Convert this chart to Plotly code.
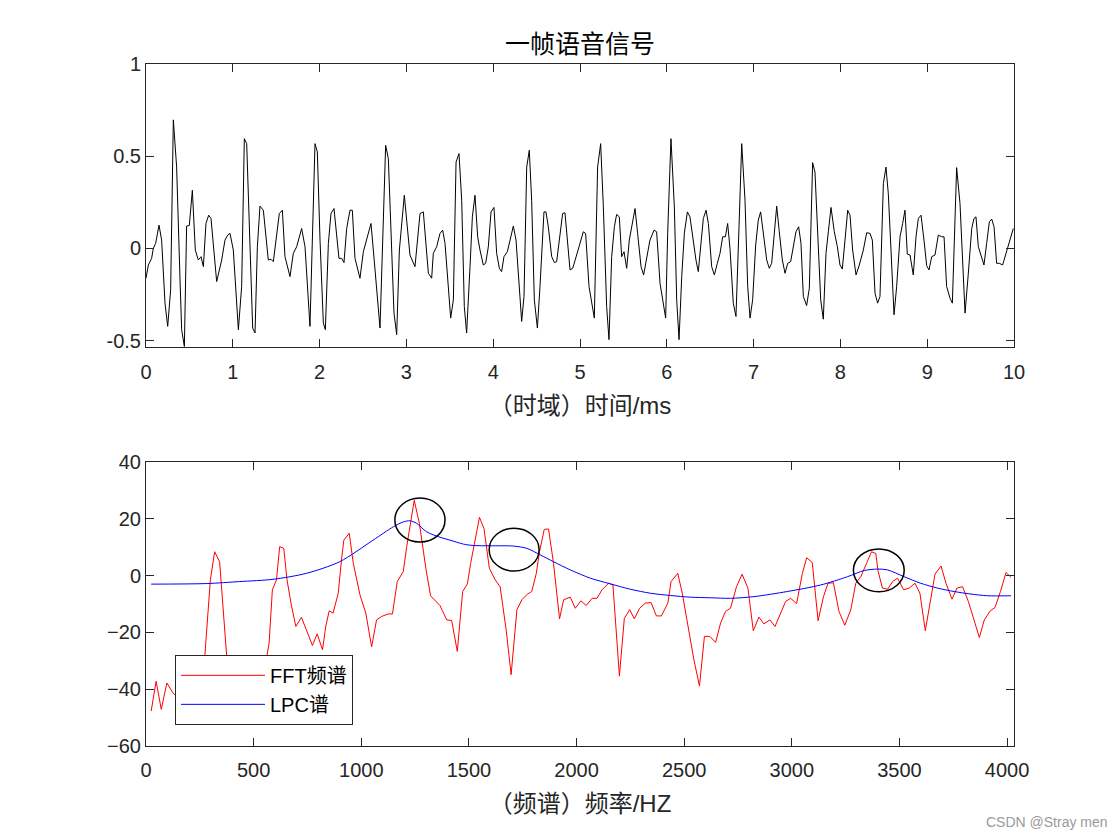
import plotly.graph_objects as go

# ---------------- data: top panel (one speech frame) ----------------
t_ms = [
    0.000, 0.027, 0.065, 0.084, 0.111, 0.150, 0.180, 0.219, 0.250, 0.284,
    0.315, 0.353, 0.392, 0.411, 0.442, 0.468, 0.499, 0.534, 0.568, 0.603,
    0.634, 0.661, 0.691, 0.722, 0.749, 0.814, 0.872, 0.910, 0.941, 0.968,
    1.006, 1.064, 1.102, 1.133, 1.160, 1.198, 1.229, 1.256, 1.283, 1.313,
    1.352, 1.409, 1.440, 1.467, 1.505, 1.536, 1.571, 1.601, 1.659, 1.697,
    1.736, 1.793, 1.832, 1.889, 1.947, 1.974, 2.005, 2.043, 2.066, 2.101,
    2.131, 2.166, 2.223, 2.254, 2.281, 2.312, 2.350, 2.377, 2.408, 2.465,
    2.504, 2.554, 2.592, 2.619, 2.696, 2.761, 2.792, 2.857, 2.888, 2.919,
    2.976, 3.041, 3.099, 3.157, 3.195, 3.253, 3.291, 3.310, 3.349, 3.387,
    3.418, 3.445, 3.483, 3.510, 3.541, 3.572, 3.606, 3.637, 3.667, 3.694,
    3.733, 3.760, 3.790, 3.821, 3.848, 3.886, 3.913, 3.944, 3.975, 4.009,
    4.040, 4.071, 4.097, 4.124, 4.163, 4.194, 4.232, 4.263, 4.301, 4.328,
    4.355, 4.386, 4.416, 4.443, 4.474, 4.509, 4.539, 4.585, 4.608, 4.635,
    4.674, 4.705, 4.731, 4.770, 4.800, 4.827, 4.858, 4.885, 4.916, 4.951,
    4.989, 5.038, 5.065, 5.104, 5.134, 5.165, 5.203, 5.238, 5.269, 5.307,
    5.334, 5.365, 5.396, 5.422, 5.453, 5.480, 5.507, 5.538, 5.568, 5.603,
    5.634, 5.664, 5.703, 5.733, 5.768, 5.806, 5.853, 5.883, 5.922, 5.960,
    5.987, 6.010, 6.048, 6.087, 6.114, 6.141, 6.172, 6.202, 6.237, 6.267,
    6.306, 6.336, 6.363, 6.390, 6.421, 6.452, 6.479, 6.517, 6.548, 6.582,
    6.613, 6.644, 6.675, 6.701, 6.728,
    6.766, 6.797, 6.832, 6.863, 6.901, 6.932, 6.959, 6.989, 7.024, 7.054,
    7.081, 7.112, 7.151, 7.181, 7.208, 7.235, 7.266, 7.296, 7.331, 7.362,
    7.393, 7.427, 7.458, 7.488, 7.519, 7.546, 7.573, 7.611, 7.642, 7.680,
    7.707, 7.746, 7.773, 7.803, 7.834, 7.861, 7.892, 7.930, 7.965, 7.995,
    8.022, 8.053, 8.084, 8.111, 8.141, 8.180, 8.218, 8.264, 8.303, 8.341,
    8.368, 8.399, 8.429, 8.456, 8.495, 8.525, 8.552, 8.583, 8.618, 8.648,
    8.687, 8.717, 8.744, 8.771, 8.802, 8.840, 8.871, 8.898, 8.929, 8.963,
    8.994, 9.021, 9.052, 9.090, 9.128, 9.167, 9.194, 9.224, 9.263, 9.290,
    9.313, 9.339, 9.378, 9.409, 9.436, 9.474, 9.513, 9.539, 9.562, 9.589,
    9.628, 9.654, 9.685, 9.716, 9.743, 9.770, 9.800, 9.831, 9.869, 9.904,
    9.935, 9.992,
]
amp = [
    -0.162, -0.090, -0.054, 0.000, 0.027, 0.126, 0.045, -0.297, -0.423, -0.225,
    0.697, 0.441, -0.171, -0.441, -0.532, 0.121, 0.124, 0.315, -0.009, -0.063,
    -0.045, -0.099, 0.135, 0.180, 0.162, -0.180, -0.063, 0.045, 0.072, 0.081,
    -0.009, -0.441, -0.207, 0.595, 0.568, 0.045, -0.432, -0.459, 0.009, 0.229,
    0.207, -0.063, -0.059, -0.072, 0.090, 0.189, 0.207, -0.045, -0.153, -0.027,
    0.009, 0.108, 0.009, -0.423, 0.568, 0.523, 0.045, -0.405, -0.441, 0.027,
    0.189, 0.216, -0.054, -0.054, -0.077, 0.108, 0.207, 0.207, -0.054, -0.162,
    -0.018, 0.063, 0.135, -0.009, -0.432, 0.559, 0.486, -0.351, -0.468, -0.009,
    0.288, -0.036, -0.099, 0.189, 0.198, -0.135, -0.162, -0.027, 0.009, 0.081,
    0.099, 0.027, -0.243, -0.378, -0.279, 0.468, 0.514, 0.261, -0.315, -0.459,
    -0.099, 0.171, 0.288, 0.063, -0.009, -0.090, -0.081, 0.009, 0.198, 0.222,
    -0.027, -0.108, -0.126, -0.045, -0.018, 0.045, 0.121, 0.045, -0.225, -0.396,
    -0.261, 0.441, 0.532, 0.261, -0.279, -0.432, -0.207, 0.198, 0.198, 0.117,
    -0.045, -0.077, -0.072, 0.081, 0.189, 0.193, 0.027, -0.117, -0.108, -0.045,
    0.009, 0.090, 0.081, -0.207, -0.297, -0.378, 0.441, 0.568, 0.225, -0.315,
    -0.495, -0.045, 0.117, 0.184, 0.171, -0.045, -0.018, -0.108, 0.045, 0.135,
    0.216, 0.081, -0.099, -0.144, -0.045, 0.045, 0.099, 0.090, -0.189, -0.315,
    -0.378, 0.081, 0.595, 0.225, -0.279, -0.495, -0.153, 0.081, 0.198, 0.171,
    0.027, -0.063, -0.126, 0.009, 0.162, 0.207, 0.135, -0.099, -0.144, -0.081,
    -0.027, 0.063, 0.063, 0.135, 0.000,
    -0.297, -0.369, 0.117, 0.568, 0.261, -0.207, -0.378, -0.279, 0.018, 0.153,
    0.198, 0.081, -0.063, -0.108, -0.081, 0.063, 0.229, 0.090, -0.063, -0.135,
    -0.081, -0.072, 0.009, 0.090, 0.117, 0.027, -0.261, -0.310, -0.216, 0.465,
    0.414, 0.027, -0.279, -0.384, -0.027, 0.090, 0.222, 0.090, 0.009, -0.090,
    -0.112, 0.045, 0.207, 0.180, -0.009, -0.144, -0.090, -0.009, 0.085, 0.081,
    0.045, -0.243, -0.297, -0.261, 0.351, 0.441, 0.297, -0.009, -0.360, -0.207,
    0.063, 0.135, 0.207, -0.031, -0.036, -0.144, 0.063, 0.162, 0.180, 0.045,
    -0.094, -0.117, -0.045, -0.036, 0.072, 0.063, 0.063, -0.207, -0.270, -0.297,
    0.045, 0.438, 0.243, -0.099, -0.351, -0.135, 0.108, 0.162, 0.171, 0.009,
    -0.045, -0.090, 0.027, 0.144, 0.159, 0.117, -0.081, -0.081, -0.090, -0.036,
    0.009, 0.108,
]

# ---------------- data: bottom panel (spectra) ----------------
fft_hz = [
    24, 47, 71, 97, 125, 175, 230,
    272, 299, 319, 342, 357, 376, 430, 500,
    559, 572, 587, 606, 621, 640, 655, 675, 696, 722,
    745, 773, 795, 820, 835, 851, 869, 893, 908, 919,
    944, 963, 994, 1021, 1048, 1071, 1094, 1125, 1145, 1167,
    1195, 1211, 1246, 1270, 1301, 1322, 1366,
    1397, 1420, 1446, 1471, 1493, 1508, 1524, 1549, 1570, 1595,
    1622, 1645, 1673, 1696, 1723, 1746, 1772, 1792, 1813, 1828,
    1850, 1870, 1893, 1921, 1940, 1971, 1994, 2020, 2045, 2072,
    2095, 2118, 2149, 2169, 2199, 2222, 2247, 2268, 2293, 2319,
    2346, 2371, 2394, 2424, 2439, 2470, 2491, 2521, 2545, 2571,
    2594, 2619, 2646, 2669, 2692, 2715,
    2743, 2769, 2796, 2821, 2847, 2870, 2898, 2922, 2948, 2971,
    2995, 3022, 3049, 3069, 3095, 3122, 3147, 3168, 3193, 3219,
    3246, 3274, 3297, 3320, 3347, 3370, 3390, 3401, 3421, 3445,
    3468, 3491, 3519, 3545, 3572, 3595, 3620, 3643, 3665, 3693,
    3716, 3744, 3767, 3793, 3820, 3845, 3871, 3894, 3922, 3944,
    3969, 3995, 4006, 4018,
]
fft_db = [
    -47.7, -37.2, -47.1, -37.8, -41.3, -45.0, -47.0,
    -29.6, -1.5, 8.4, 4.9, -10.9, -29.6, -46.0, -44.0,
    -29.6, -23.7, -5.0, -1.5, 10.2, 9.6, -1.5, -10.3, -17.9, -14.7,
    -19.1, -24.6, -20.5, -26.1, -17.9, -12.4, -13.2, -6.2, 5.5, 12.5,
    14.9, 4.3, -6.8, -13.2, -25.1, -15.6, -14.4, -13.5, -13.5, -2.1,
    1.4, 10.2, 26.5, 18.4, 2.0, -7.1, -10.6,
    -15.6, -15.8, -26.7, -5.6, -2.9, 4.3, 10.8, 20.5, 16.6, 2.6,
    -1.5, -3.9, -19.1, -34.9, -12.0, -8.5, -6.5, -5.6, 0.8, 8.4,
    16.3, 16.4, 4.3, -15.2, -8.5, -7.6, -11.5, -8.9, -10.5, -8.0,
    -8.0, -5.0, -2.7, -3.3, -35.4, -15.0, -12.0, -15.2, -11.5, -9.7,
    -9.5, -14.2, -14.2, -9.7, -2.1, 0.8, -6.2, -19.1, -29.6, -38.9,
    -21.4, -21.4, -23.5, -16.7, -12.6, -11.5,
    -3.9, 0.5, -4.4, -19.4, -14.6, -17.0, -15.6, -17.9, -13.2, -9.1,
    -8.0, -9.9, 0.8, 6.3, 4.6, -15.9, -7.4, -2.7, -2.5, -12.6,
    -17.5, -12.0, -2.7, -0.4, 4.3, 8.4, 7.8, 1.4, -4.4, -4.8,
    -2.1, -0.9, -5.0, -4.4, -2.7, -6.2, -19.4, -8.5, 0.5, 3.4,
    -2.7, -8.3, -4.4, -3.9, -9.1, -15.3, -21.8, -15.6, -12.4, -11.2,
    -5.6, 1.1, 0.2, -0.6,
]
lpc_hz = [
    24, 280, 435, 590, 745, 900, 1055, 1149, 1195, 1226,
    1257, 1304, 1366, 1412, 1474, 1521, 1598, 1707, 1769, 1831,
    1893, 1971, 2064, 2157, 2250, 2343, 2436, 2529, 2622, 2715,
    2824, 2979, 3134, 3258, 3336, 3398, 3445, 3522, 3599, 3677,
    3754, 3832, 3910, 4018,
]
lpc_db = [
    -3.0, -2.8, -2.1, -1.3, 0.8, 4.9, 12.5, 17.2, 18.9, 19.3,
    18.4, 15.4, 13.5, 12.5, 11.1, 10.6, 10.5, 10.4, 9.6, 7.3,
    4.9, 2.0, -0.9, -2.9, -4.8, -6.2, -7.0, -7.6, -7.8, -8.0,
    -7.4, -5.6, -3.3, -0.4, 1.8, 2.3, 2.0, -0.4, -2.7, -4.4,
    -5.6, -6.5, -7.1, -7.1,
]

# formant marks (ellipse extents in data units: Hz range, dB range)
formant_hz_ranges = [(1156, 1389), (1594, 1826), (3286, 3522)]
formant_db_ranges = [(11.8, 27.3), (1.6, 16.7), (-5.7, 9.4)]

# tick labels
top_xticks = list(range(0, 11))
top_yticks = [-0.5, 0, 0.5, 1]
top_ytext = ["-0.5", "0", "0.5", "1"]
bot_xticks = [0, 500, 1000, 1500, 2000, 2500, 3000, 3500, 4000]
bot_yticks = [-60, -40, -20, 0, 20, 40]

title_text = "一帧语音信号"
top_xlabel = "（时域）时间/ms"
bot_xlabel = "（频谱）频率/HZ"
series_names = ["FFT频谱", "LPC谱"]

# ---------------- figure ----------------
FONT = "Liberation Sans, Arial, Noto Sans CJK SC, sans-serif"
AX = "#262626"

fig = go.Figure()
fig.add_trace(go.Scatter(x=t_ms, y=amp, mode="lines",
                         line=dict(color="black", width=1),
                         xaxis="x", yaxis="y", showlegend=False,
                         hoverinfo="skip"))
fig.add_trace(go.Scatter(x=fft_hz, y=fft_db, mode="lines", name=series_names[0],
                         line=dict(color="#FF0000", width=1),
                         xaxis="x2", yaxis="y2"))
fig.add_trace(go.Scatter(x=lpc_hz, y=lpc_db, mode="lines", name=series_names[1],
                         line=dict(color="#0000FF", width=1, shape="spline",
                                   smoothing=0.8),
                         xaxis="x2", yaxis="y2"))

axis_common = dict(showline=True, linecolor=AX, linewidth=1, mirror="ticks",
                   ticks="inside", ticklen=8, tickcolor=AX, tickwidth=1,
                   showgrid=False, zeroline=False,
                   tickfont=dict(family=FONT, size=20, color=AX))

fig.update_layout(
    width=1120, height=840,
    margin=dict(l=138, r=114, t=56, b=102),
    paper_bgcolor="white", plot_bgcolor="white",
    font=dict(family=FONT, color=AX),
    xaxis=dict(domain=[0, 1], anchor="y", range=[0, 10],
               tickvals=top_xticks, ticklabelstandoff=7,
               title=dict(text=top_xlabel, font=dict(size=24, color=AX),
                          standoff=15),
               **axis_common),
    yaxis=dict(domain=[0.585, 1], anchor="x", range=[-0.535, 1],
               tickvals=top_yticks, ticktext=top_ytext, **axis_common),
    xaxis2=dict(domain=[0, 1], anchor="y2", range=[0, 4032],
                tickvals=bot_xticks, ticklabelstandoff=6,
                title=dict(text=bot_xlabel, font=dict(size=24, color=AX),
                           standoff=15),
                **axis_common),
    yaxis2=dict(domain=[0, 0.4164], anchor="x2", range=[-60, 40],
                tickvals=bot_yticks, **axis_common),
    legend=dict(x=0.0334, y=0.031, xanchor="left", yanchor="bottom",
                bgcolor="white", bordercolor=AX, borderwidth=1,
                font=dict(family=FONT, size=20, color="black"),
                itemwidth=84, tracegroupgap=0),
    showlegend=True,
)

shapes = []
for (hx0, hx1), (dy0, dy1) in zip(formant_hz_ranges, formant_db_ranges):
    shapes.append(dict(type="circle", xref="x2", yref="y2",
                       x0=hx0, x1=hx1, y0=dy0, y1=dy1,
                       line=dict(color="black", width=1.5)))
fig.update_layout(shapes=shapes)

fig.add_annotation(text=title_text, xref="paper", yref="paper",
                   x=0.5, y=1, xanchor="center", yanchor="bottom", yshift=4,
                   showarrow=False, font=dict(family=FONT, size=25, color="black"))
fig.add_annotation(text="CSDN @Stray men", xref="paper", yref="paper",
                   x=1.1106, y=-0.111, xanchor="right", yanchor="middle",
                   showarrow=False, font=dict(family=FONT, size=14, color="#9a9a9a"))

fig.write_html("out.html")
